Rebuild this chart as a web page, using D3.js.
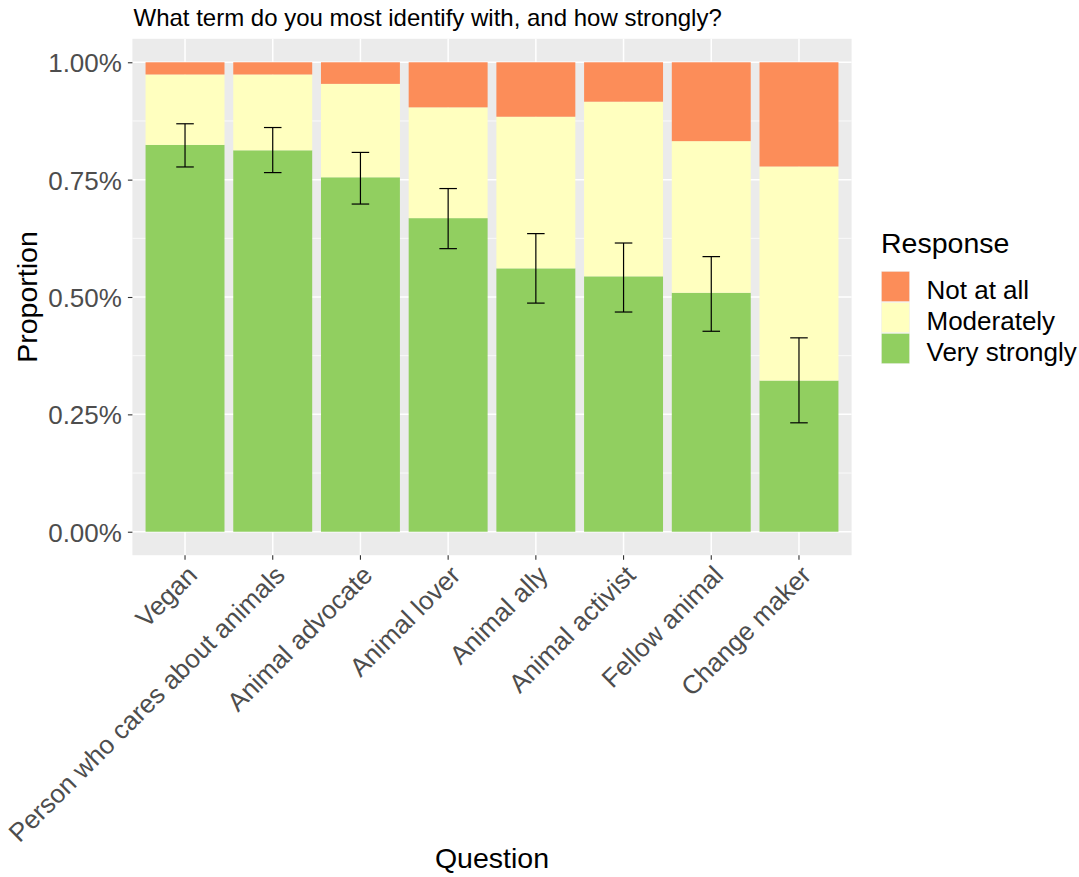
<!DOCTYPE html>
<html><head><meta charset="utf-8">
<script src="https://cdn.jsdelivr.net/npm/d3@7"></script>
<style>
body{margin:0;background:#fff;}
text{font-family:"Liberation Sans",Arial,sans-serif;}
</style></head>
<body><svg id="chart" width="1079" height="877"></svg>
<script>
const categories = ["Vegan","Person who cares about animals","Animal advocate","Animal lover","Animal ally","Animal activist","Fellow animal","Change maker"];
const veryStrongly = [0.824,0.8125,0.755,0.668,0.561,0.544,0.509,0.322];
const moderately   = [0.150,0.1615,0.199,0.236,0.323,0.372,0.323,0.456];
const notAtAll     = [0.026,0.026,0.046,0.096,0.116,0.084,0.168,0.222];
const errLow  = [0.777,0.765,0.698,0.603,0.487,0.468,0.427,0.232];
const errHigh = [0.869,0.861,0.808,0.731,0.635,0.615,0.586,0.413];
const responses = ["Very strongly","Moderately","Not at all"];
const legendOrder = ["Not at all","Moderately","Very strongly"];
const yTicks = [0,0.25,0.5,0.75,1];
const yMinor = [0.125,0.375,0.625,0.875];
const colors = {"Not at all":"#FC8D59","Moderately":"#FFFFBF","Very strongly":"#91CF60"};

const rows = categories.map((c,i)=>({q:c,"Very strongly":veryStrongly[i],"Moderately":moderately[i],"Not at all":notAtAll[i],lo:errLow[i],hi:errHigh[i]}));

const svg = d3.select("#chart");
const P = {l:132.4, r:851.6, t:38.8, b:555.2};
const x = d3.scaleBand().domain(categories).range([P.l,P.r]).paddingInner(0.1).paddingOuter(0.15);
const y = d3.scaleLinear().domain([-0.05,1.05]).range([P.b,P.t]);

// panel
svg.append("rect").attr("x",P.l).attr("y",P.t).attr("width",P.r-P.l).attr("height",P.b-P.t).attr("fill","#EBEBEB");
const g = svg.append("g");
g.selectAll(".minor").data(yMinor).join("line")
  .attr("x1",P.l).attr("x2",P.r).attr("y1",d=>y(d)).attr("y2",d=>y(d))
  .attr("stroke","#fff").attr("stroke-width",0.75);
g.selectAll(".majy").data(yTicks).join("line")
  .attr("x1",P.l).attr("x2",P.r).attr("y1",d=>y(d)).attr("y2",d=>y(d))
  .attr("stroke","#fff").attr("stroke-width",1.5);
g.selectAll(".majx").data(categories).join("line")
  .attr("x1",d=>x(d)+x.bandwidth()/2).attr("x2",d=>x(d)+x.bandwidth()/2).attr("y1",P.t).attr("y2",P.b)
  .attr("stroke","#fff").attr("stroke-width",1.5);

// bars
const stack = d3.stack().keys(responses)(rows);
svg.append("g").selectAll("g").data(stack).join("g").attr("fill",d=>colors[d.key])
  .selectAll("rect").data(d=>d).join("rect")
  .attr("x",d=>x(d.data.q)).attr("width",x.bandwidth())
  .attr("y",d=>y(d[1])).attr("height",d=>y(d[0])-y(d[1]));

// error bars
const cap = x.step()*0.2/2;
const eb = svg.append("g").attr("stroke","#000").attr("stroke-width",1.2).attr("fill","none");
rows.forEach(r=>{
  const cx = x(r.q)+x.bandwidth()/2;
  eb.append("line").attr("x1",cx).attr("x2",cx).attr("y1",y(r.lo)).attr("y2",y(r.hi));
  eb.append("line").attr("x1",cx-cap).attr("x2",cx+cap).attr("y1",y(r.lo)).attr("y2",y(r.lo));
  eb.append("line").attr("x1",cx-cap).attr("x2",cx+cap).attr("y1",y(r.hi)).attr("y2",y(r.hi));
});

// y axis
const ya = svg.append("g").attr("transform",`translate(${P.l},0)`)
  .call(d3.axisLeft(y).tickValues(yTicks).tickFormat(d=>d3.format(".2f")(d)+"%").tickSize(4.5).tickPadding(6));
ya.select(".domain").remove();
ya.selectAll(".tick line").attr("stroke","#333").attr("stroke-width",1.1);
ya.selectAll(".tick text").attr("fill","#4D4D4D").style("font-size","26px").attr("font-family",null).attr("dy","0.36em");

// x axis
const xa = svg.append("g").attr("transform",`translate(0,${P.b})`)
  .call(d3.axisBottom(x).tickSize(4.5).tickFormat(""));
xa.select(".domain").remove();
xa.selectAll(".tick line").attr("stroke","#333").attr("stroke-width",1.1);
svg.append("g").selectAll("text").data(categories).join("text")
  .attr("transform",d=>`translate(${x(d)+x.bandwidth()/2},${P.b+8}) rotate(-45)`)
  .attr("text-anchor","end").attr("dy","0.74em")
  .attr("fill","#4D4D4D").style("font-size","26px").text(d=>d);

// titles
svg.append("text").attr("x",133.5).attr("y",26).style("font-size","24px").attr("fill","#000")
  .text("What term do you most identify with, and how strongly?");
svg.append("text").attr("x",(P.l+P.r)/2).attr("y",868).attr("text-anchor","middle").style("font-size","28.5px").text("Question");
svg.append("text").attr("transform",`translate(37,${(P.t+P.b)/2}) rotate(-90)`).attr("text-anchor","middle").style("font-size","28.5px").text("Proportion");

// legend
const lg = svg.append("g");
lg.append("text").attr("x",881).attr("y",253).style("font-size","28.5px").text("Response");
const kh = 31, k0 = 271;
legendOrder.forEach((k,i)=>{
  const ky = k0 + i*kh;
  lg.append("rect").attr("x",881).attr("y",ky).attr("width",29).attr("height",kh).attr("fill","#F2F2F2");
  lg.append("rect").attr("x",881.7).attr("y",ky+0.7).attr("width",27.6).attr("height",kh-1.4).attr("fill",colors[k]);
  lg.append("text").attr("x",926.5).attr("y",ky+kh/2+12).style("font-size","26px").attr("fill","#000").text(k);
});
</script></body></html>
